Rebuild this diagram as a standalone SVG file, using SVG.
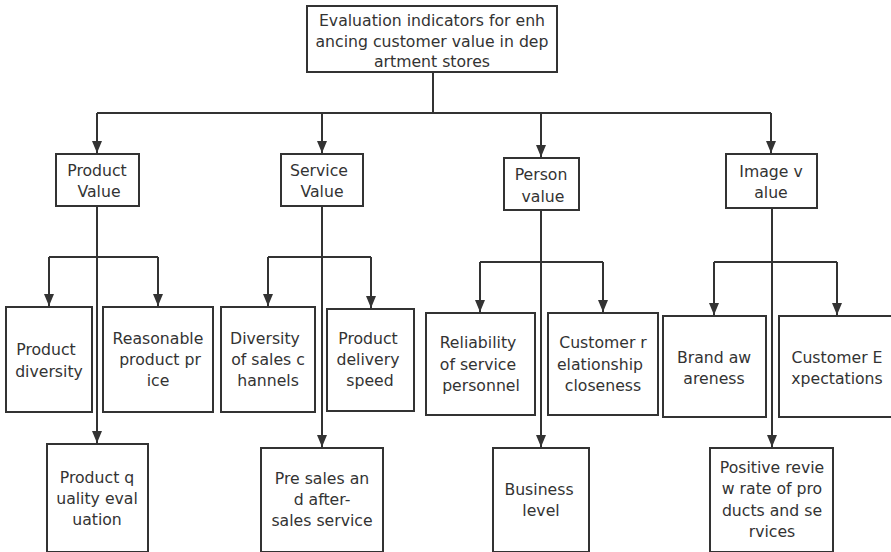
<svg xmlns="http://www.w3.org/2000/svg" width="891" height="552" viewBox="0 0 891 552">
<style>
.box{fill:#fff;stroke:#333;stroke-width:2}
.ln{fill:none;stroke:#333;stroke-width:2}
text{font-family:"DejaVu Sans","Liberation Sans",sans-serif;font-size:15.7px;fill:#333;text-anchor:middle}
</style>
<defs>
<marker id="ah" markerWidth="12" markerHeight="10" refX="12" refY="5" orient="auto" markerUnits="userSpaceOnUse" viewBox="0 0 12 10">
<path d="M0,0 L12,5 L0,10 Z" fill="#333"/>
</marker>
</defs>
<rect width="891" height="552" fill="#fff"/>
<g id="connectors">
<path class="ln" d="M433,72 V113 M97,113 H771"/>
<path class="ln" d="M97,113 V153" marker-end="url(#ah)"/>
<path class="ln" d="M322,113 V153" marker-end="url(#ah)"/>
<path class="ln" d="M541,113 V157" marker-end="url(#ah)"/>
<path class="ln" d="M771,113 V153" marker-end="url(#ah)"/>
<path class="ln" d="M49,257 H158"/>
<path class="ln" d="M49,257 V306" marker-end="url(#ah)"/>
<path class="ln" d="M158,257 V306" marker-end="url(#ah)"/>
<path class="ln" d="M97,206 V443" marker-end="url(#ah)"/>
<path class="ln" d="M268,257 H371"/>
<path class="ln" d="M268,257 V306" marker-end="url(#ah)"/>
<path class="ln" d="M371,257 V308" marker-end="url(#ah)"/>
<path class="ln" d="M322,206 V447" marker-end="url(#ah)"/>
<path class="ln" d="M480,262 H603"/>
<path class="ln" d="M480,262 V312" marker-end="url(#ah)"/>
<path class="ln" d="M603,262 V312" marker-end="url(#ah)"/>
<path class="ln" d="M541,210 V447" marker-end="url(#ah)"/>
<path class="ln" d="M714,262 H837"/>
<path class="ln" d="M714,262 V315" marker-end="url(#ah)"/>
<path class="ln" d="M837,262 V315" marker-end="url(#ah)"/>
<path class="ln" d="M772,208 V447" marker-end="url(#ah)"/>
</g>
<g id="root"><rect class="box" x="307" y="6" width="250" height="66"/>
<text x="432" y="26">Evaluation indicators for enh</text><text x="432" y="47">ancing customer value in dep</text><text x="432" y="67">artment stores</text></g>
<g id="product-value"><rect class="box" x="56" y="154" width="83" height="52"/><text x="97" y="176">Product</text><text x="99" y="197">Value</text></g>
<g id="service-value"><rect class="box" x="281" y="154" width="82" height="52"/><text x="319" y="176">Service</text><text x="322" y="197">Value</text></g>
<g id="person-value"><rect class="box" x="504" y="158" width="75" height="52"/><text x="541" y="180">Person</text><text x="543" y="202">value</text></g>
<g id="image-value"><rect class="box" x="726" y="154" width="91" height="54"/><text x="771" y="177">Image v</text><text x="771" y="198">alue</text></g>
<g id="product-diversity"><rect class="box" x="6" y="307" width="86" height="105"/><text x="46" y="355">Product</text><text x="49" y="377">diversity</text></g>
<g id="reasonable-price"><rect class="box" x="103" y="307" width="110" height="105"/><text x="158" y="344">Reasonable</text><text x="160" y="365">product pr</text><text x="158" y="386">ice</text></g>
<g id="product-quality"><rect class="box" x="47" y="444" width="101" height="108"/><text x="97" y="483">Product q</text><text x="97" y="504">uality eval</text><text x="97" y="525">uation</text></g>
<g id="sales-channels"><rect class="box" x="221" y="307" width="94" height="105"/><text x="265" y="344">Diversity</text><text x="268" y="365">of sales c</text><text x="268" y="386">hannels</text></g>
<g id="delivery-speed"><rect class="box" x="327" y="309" width="87" height="102"/><text x="368" y="344">Product</text><text x="368" y="365">delivery</text><text x="370" y="386">speed</text></g>
<g id="pre-after-sales"><rect class="box" x="261" y="448" width="122" height="104"/><text x="322" y="484">Pre sales an</text><text x="322" y="505">d after-</text><text x="322" y="526">sales service</text></g>
<g id="reliability"><rect class="box" x="426" y="313" width="109" height="102"/><text x="478" y="348">Reliability</text><text x="478" y="370">of service</text><text x="481" y="391">personnel</text></g>
<g id="relationship"><rect class="box" x="548" y="313" width="110" height="102"/><text x="603" y="348">Customer r</text><text x="600" y="370">elationship</text><text x="603" y="391">closeness</text></g>
<g id="business-level"><rect class="box" x="493" y="448" width="96" height="104"/><text x="539" y="495">Business</text><text x="541" y="516">level</text></g>
<g id="brand-awareness"><rect class="box" x="663" y="316" width="103" height="101"/><text x="714" y="363">Brand aw</text><text x="714" y="384">areness</text></g>
<g id="customer-expectations"><rect class="box" x="779" y="316" width="114" height="101"/><text x="837" y="363">Customer E</text><text x="837" y="384">xpectations</text></g>
<g id="positive-review"><rect class="box" x="710" y="448" width="123" height="104"/><text x="772" y="473">Positive revie</text><text x="772" y="494">w rate of pro</text><text x="772" y="516">ducts and se</text><text x="772" y="537">rvices</text></g>
</svg>
